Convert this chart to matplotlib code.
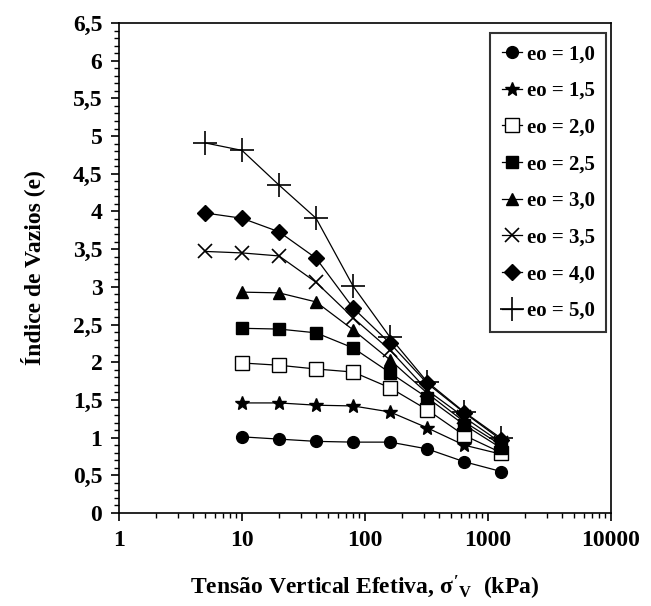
import matplotlib
matplotlib.use('Agg')
import matplotlib.pyplot as plt
from matplotlib.ticker import FixedLocator, LogLocator, NullFormatter, MultipleLocator

plt.rcParams['font.family'] = ['Liberation Serif', 'DejaVu Serif']
plt.rcParams['font.weight'] = 'bold'
plt.rcParams['mathtext.fontset'] = 'custom'
plt.rcParams['mathtext.rm'] = 'Liberation Serif:bold'
plt.rcParams['mathtext.it'] = 'Liberation Serif:bold'
plt.rcParams['mathtext.bf'] = 'Liberation Serif:bold'

# effective vertical stress (kPa)
stress_5 = [5, 10, 20, 40, 80, 160, 320, 640, 1280]
stress_10 = [10, 20, 40, 80, 160, 320, 640, 1280]

e_10 = [1.01, 0.98, 0.95, 0.94, 0.94, 0.85, 0.68, 0.55]
e_15 = [1.46, 1.46, 1.43, 1.42, 1.34, 1.13, 0.90, 0.78]
e_20 = [1.99, 1.96, 1.91, 1.87, 1.66, 1.37, 1.03, 0.80]
e_25 = [2.45, 2.44, 2.39, 2.19, 1.86, 1.53, 1.17, 0.86]
e_30 = [2.93, 2.92, 2.80, 2.43, 2.03, 1.59, 1.21, 0.90]
e_35 = [3.47, 3.45, 3.41, 3.06, 2.59, 2.16, 1.63, 1.27, 0.93]
e_40 = [3.98, 3.91, 3.73, 3.38, 2.72, 2.25, 1.72, 1.33, 0.97]
e_50 = [4.91, 4.81, 4.35, 3.91, 3.01, 2.33, 1.74, 1.34, 0.99]

labels = ['eo = 1,0', 'eo = 1,5', 'eo = 2,0', 'eo = 2,5',
          'eo = 3,0', 'eo = 3,5', 'eo = 4,0', 'eo = 5,0']

y_ticks = [0, 0.5, 1, 1.5, 2, 2.5, 3, 3.5, 4, 4.5, 5, 5.5, 6, 6.5]
y_tick_labels = ['0', '0,5', '1', '1,5', '2', '2,5', '3', '3,5',
                 '4', '4,5', '5', '5,5', '6', '6,5']
x_ticks = [1, 10, 100, 1000, 10000]
x_tick_labels = ['1', '10', '100', '1000', '10000']

fig = plt.figure(figsize=(6.51, 6.06), dpi=100)
ax = fig.add_axes([0.1828, 0.1535, 0.7558, 0.8085])

series = [
    (stress_10, e_10, dict(marker='o', ms=8.5, mfc='black')),
    (stress_10, e_15, dict(marker='*', ms=10.5, mfc='black')),
    (stress_10, e_20, dict(marker='s', ms=10, mfc='white', mew=1.0)),
    (stress_10, e_25, dict(marker='s', ms=8, mfc='black')),
    (stress_10, e_30, dict(marker='^', ms=8.5, mfc='black')),
    (stress_5, e_35, dict(marker='x', ms=10, mew=1.2)),
    (stress_5, e_40, dict(marker='D', ms=8, mfc='black')),
    (stress_5, e_50, dict(marker='+', ms=17, mew=1.2)),
]

for (x, y, style), lab in zip(series, labels):
    ax.plot(x, y, color='black', lw=0.9, mec='black', label=lab, **style)

ax.set_xscale('log')
ax.set_xlim(1, 10000)
ax.set_ylim(0, 6.5)
ax.xaxis.set_major_locator(FixedLocator(x_ticks))
ax.set_xticklabels(x_tick_labels)
ax.xaxis.set_minor_locator(LogLocator(base=10, subs=range(2, 10)))
ax.xaxis.set_minor_formatter(NullFormatter())
ax.yaxis.set_major_locator(FixedLocator(y_ticks))
ax.set_yticklabels(y_tick_labels)
ax.yaxis.set_minor_locator(MultipleLocator(0.1))

ax.tick_params(which='major', direction='out', length=6, width=1.2,
               labelsize=17, pad=6)
ax.tick_params(which='minor', direction='out', length=3.5, width=1.0)
for s in ax.spines.values():
    s.set_linewidth(1.2)

ax.set_ylabel('Índice de Vazios (e)', fontsize=17, fontweight='bold', labelpad=20)
ax.set_xlabel(r"Tensão Vertical Efetiva, $\sigma'_\mathrm{V}$  (kPa)",
              fontsize=17, fontweight='bold', labelpad=17)

leg = ax.legend(loc='upper right', bbox_to_anchor=(0.99, 0.98), fontsize=15,
                frameon=True, fancybox=False, edgecolor='black',
                handlelength=1.0, handletextpad=0.2, labelspacing=0.8,
                borderpad=0.55, borderaxespad=0)
leg.get_frame().set_linewidth(1.5)

fig.savefig('out.png', dpi=100)
